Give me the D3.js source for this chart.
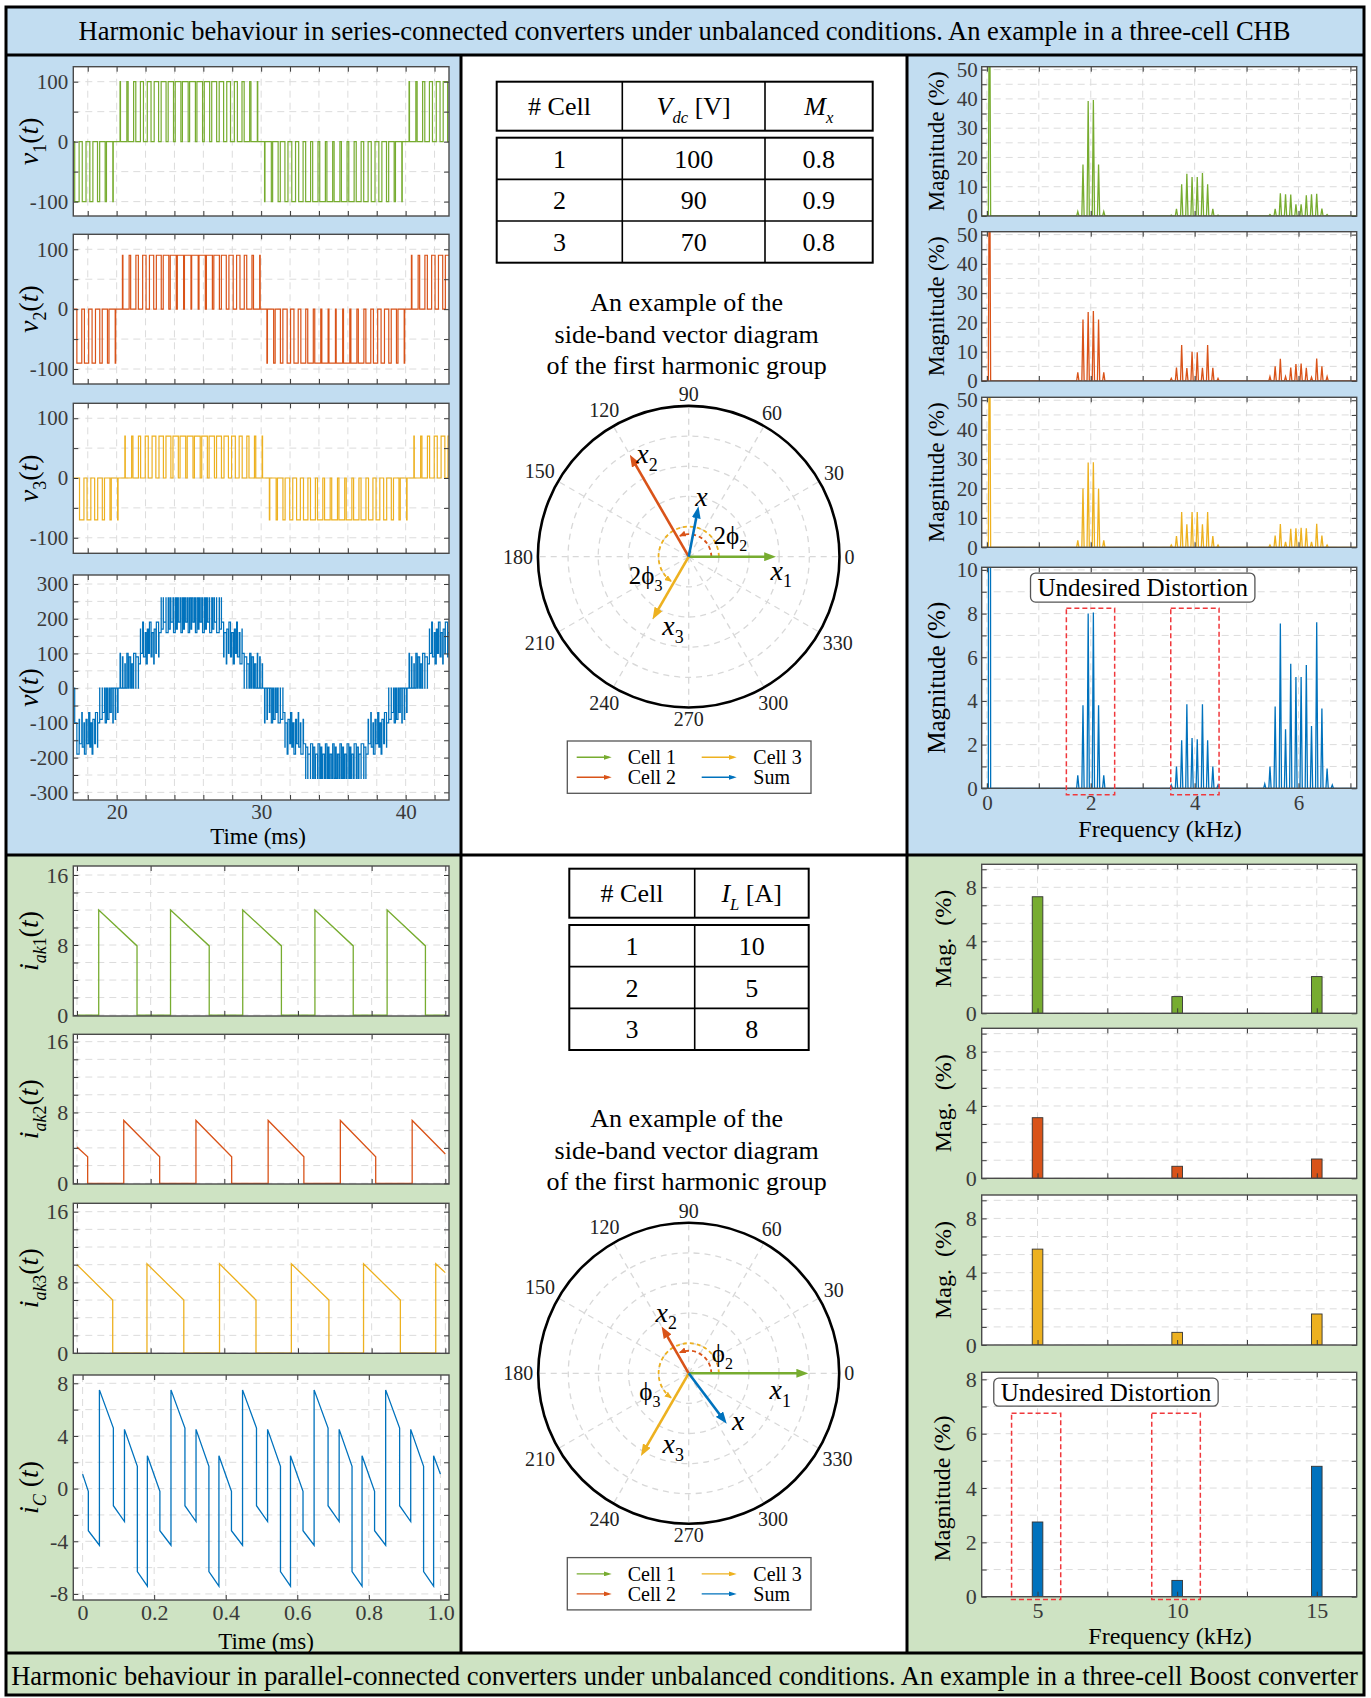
<!DOCTYPE html>
<html><head><meta charset="utf-8">
<script src="https://cdn.jsdelivr.net/npm/d3@7/dist/d3.min.js"></script>
<style>html,body{margin:0;padding:0;background:#fff;}svg{display:block;}</style>
</head><body>
<script>
// ======================= DATA =======================
const titleTop = "Harmonic behaviour in series-connected converters under unbalanced conditions. An example in a three-cell CHB";
const titleBottom = "Harmonic behaviour in parallel-connected converters under unbalanced conditions. An example in a three-cell Boost converter";
const captionLines = ["An example of the", "side-band vector diagram", "of the first harmonic group"];
const legendNames = ["Cell 1", "Cell 2", "Cell 3", "Sum"];

// CHB cells: switching-period pulse widths (signed duty per 0.5 ms period, 17..43 ms)
const pwmStartMs = 17, pwmEndMs = 43, pwmPeriodMs = 0.5;
const cellVdc = [100, 90, 70];
const carrierShiftMs = [0, 0.167, 0.333];
const duty1 = [-0.61,-0.52,-0.42,-0.30,-0.18,-0.06, 0.06,0.18,0.30,0.42,0.52,0.61,0.68,0.74,0.78,0.80,0.80,0.78,0.74,0.68,0.61,0.52,0.42,0.30,0.18,0.06, -0.06,-0.18,-0.30,-0.42,-0.52,-0.61,-0.68,-0.74,-0.78,-0.80,-0.80,-0.78,-0.74,-0.68,-0.61,-0.52,-0.42,-0.30,-0.18,-0.06, 0.06,0.18,0.30,0.42,0.52,0.61];
const duty2 = [-0.68,-0.59,-0.47,-0.34,-0.21,-0.07, 0.07,0.21,0.34,0.47,0.59,0.68,0.77,0.83,0.87,0.90,0.90,0.87,0.83,0.77,0.68,0.59,0.47,0.34,0.21,0.07, -0.07,-0.21,-0.34,-0.47,-0.59,-0.68,-0.77,-0.83,-0.87,-0.90,-0.90,-0.87,-0.83,-0.77,-0.68,-0.59,-0.47,-0.34,-0.21,-0.07, 0.07,0.21,0.34,0.47,0.59,0.68];
const duty3 = [-0.61,-0.52,-0.42,-0.30,-0.18,-0.06, 0.06,0.18,0.30,0.42,0.52,0.61,0.68,0.74,0.78,0.80,0.80,0.78,0.74,0.68,0.61,0.52,0.42,0.30,0.18,0.06, -0.06,-0.18,-0.30,-0.42,-0.52,-0.61,-0.68,-0.74,-0.78,-0.80,-0.80,-0.78,-0.74,-0.68,-0.61,-0.52,-0.42,-0.30,-0.18,-0.06, 0.06,0.18,0.30,0.42,0.52,0.61];

// CHB spectra (kHz, %)
const specFreq  = [0.05, 1.75,1.85,1.95,2.05,2.15,2.25, 3.55,3.65,3.75,3.85,3.95,4.05,4.15,4.25,4.35,4.45, 5.35,5.45,5.55,5.65,5.75,5.85,5.95,6.05,6.15,6.25,6.35,6.45,6.55,6.65];
const specCell1 = [100, 1.5,17.6,39.3,39.6,17.6,1.5, 0.3,2.4,10.8,14.4,13.3,13.3,14.7,10.8,2.4,0.3, 0,0.5,2.4,7.8,7.4,7.3,4.0,4.0,7.1,7.4,7.6,2.5,0.5,0];
const specCell2 = [100, 3.0,21.0,23.6,23.9,21.0,3.0, 0.9,4.6,12.3,4.4,10.0,9.8,4.5,12.3,4.5,0.9, 0,1.5,5.0,7.6,1.5,4.6,5.8,6.0,4.5,1.3,7.7,5.0,1.5,0];
const specCell3 = [100, 2.4,20.0,28.8,28.9,20.0,2.4, 0.8,3.8,12.0,7.8,12.0,12.0,7.8,12.0,3.8,0.8, 0,0.8,4.0,7.9,1.8,6.3,6.5,6.6,6.5,1.8,8.0,4.0,0.8,0];
const specSum   = [100, 0.6,3.8,8.0,8.05,3.8,0.6, 0.15,1.0,2.2,3.85,2.3,2.25,3.85,2.2,1.0,0.15, 0.2,1.0,3.75,7.55,2.7,5.7,5.1,5.1,5.65,2.85,7.6,3.65,0.9,0.15];

// Boost cells: inductor/diode currents (ms, A)
const iak1T = [0,0.059,0.059,0.163,0.163,0.254,0.254,0.359,0.359,0.450,0.450,0.555,0.555,0.646,0.646,0.750,0.750,0.842,0.842,0.946,0.946,1.0];
const iak1V = [0,0,12.0,7.9,0,0,12.0,7.9,0,0,12.0,7.9,0,0,12.0,7.9,0,0,12.0,7.9,0,0];
const iak2T = [0,0.029,0.029,0.127,0.127,0.2245,0.2245,0.323,0.323,0.420,0.420,0.519,0.519,0.616,0.616,0.715,0.715,0.811,0.811,0.910,0.910,1.0];
const iak2V = [4.1,3.0,0,0,7.1,3.0,0,0,7.1,3.0,0,0,7.1,3.0,0,0,7.1,3.0,0,0,7.1,3.3];
const iak3T = [0,0.097,0.097,0.190,0.190,0.290,0.290,0.387,0.387,0.486,0.486,0.582,0.582,0.684,0.684,0.778,0.778,0.878,0.878,0.974,0.974,1.0];
const iak3V = [10.0,6.0,0,0,10.1,6.0,0,0,10.1,6.0,0,0,10.1,6.0,0,0,10.1,6.0,0,0,10.1,9.1];
const icT = [0, 0.016,0.016,0.047,0.047,0.086,0.086,0.117,0.117,0.153,0.153,0.181,0.181,
  0.216,0.216,0.247,0.247,0.286,0.286,0.317,0.317,0.353,0.353,0.381,0.381,
  0.416,0.416,0.447,0.447,0.486,0.486,0.517,0.517,0.553,0.553,0.581,0.581,
  0.616,0.616,0.647,0.647,0.686,0.686,0.717,0.717,0.753,0.753,0.781,0.781,
  0.816,0.816,0.847,0.847,0.886,0.886,0.917,0.917,0.953,0.953,0.981,0.981, 1.0];
const icV = [1.1, -0.2,-3.2,-4.3,7.5,4.6,-1.3,-2.5,4.5,1.7,-6.3,-7.4,2.5,
  -0.2,-3.2,-4.3,7.5,4.6,-1.3,-2.5,4.5,1.7,-6.3,-7.4,2.5,
  -0.2,-3.2,-4.3,7.5,4.6,-1.3,-2.5,4.5,1.7,-6.3,-7.4,2.5,
  -0.2,-3.2,-4.3,7.5,4.6,-1.3,-2.5,4.5,1.7,-6.3,-7.4,2.5,
  -0.2,-3.2,-4.3,7.5,4.6,-1.3,-2.5,4.5,1.7,-6.3,-7.4,2.5, 1.1];

// Boost spectra (kHz, %)
const barFreq  = [5, 10, 15];
const barCell1 = [7.40, 1.06, 2.33];
const barCell2 = [3.83, 0.76, 1.22];
const barCell3 = [6.06, 0.80, 1.96];
const barSum   = [2.75, 0.60, 4.80];

// Tables
const tableCell = ["1", "2", "3"];
const tableVdc = [100, 90, 70];
const tableMx = [0.8, 0.9, 0.8];
const tableIL = [10, 5, 8];

// Vector diagrams (angle deg, magnitude relative to outer ring)
const polarAngleTicks = [0,30,60,90,120,150,180,210,240,270,300,330];
const polarRings = [0.2, 0.4, 0.6, 0.8];
const vecNames = ["1", "2", "3", ""];
const vecAngleTop = [0, 120, 240, 79];
const vecMagTop   = [0.58, 0.78, 0.48, 0.34];
const vecAngleBot = [0, 120, 240, 307];
const vecMagBot   = [0.795, 0.36, 0.635, 0.42];
const vecLabelAngTop = [352, 112, 257, 78];
const vecLabelRadTop = [0.62, 0.74, 0.465, 0.41];
const vecLabelAngBot = [350, 110, 257.6, 316.7];
const vecLabelRadBot = [0.617, 0.435, 0.476, 0.452];
const phaseArcEnd = [113, 234];
const phaseArcRad = [0.15, 0.2];
const phaseLabelTop = ["2ϕ", "2ϕ"], phaseLabelBot = ["ϕ", "ϕ"];
const phaseLabelAngTop = [27, 203], phaseLabelRadTop = [0.31, 0.31];
const phaseLabelAngBot = [30.5, 205.4], phaseLabelRadBot = [0.26, 0.285];

// Ticks
const timeTicksTop = [18,20,22,24,26,28,30,32,34,36,38,40,42];
const timeTickLabelsTop = ["","20","","","","","30","","","","","40",""];
const vCellTicks = [-100,-50,0,50,100];
const vCellTickLabels = ["-100","","0","","100"];
const vSumTicks = [-300,-250,-200,-150,-100,-50,0,50,100,150,200,250,300];
const vSumTickLabels = ["-300","","-200","","-100","","0","","100","","200","","300"];
const freqTicks = [0,1,2,3,4,5,6,7];
const freqTickLabels = ["0","","2","","4","","6",""];
const specTicks = [0,5,10,15,20,25,30,35,40,45,50];
const specTickLabels = ["0","","10","","20","","30","","40","","50"];
const sumSpecTicks = [0,1,2,3,4,5,6,7,8,9,10];
const sumSpecTickLabels = ["0","","2","","4","","6","","8","","10"];
const timeTicksBot = [0,0.2,0.4,0.6,0.8,1.0];
const timeTickLabelsBot = ["0","0.2","0.4","0.6","0.8","1.0"];
const iakTicks = [0,2,4,6,8,10,12,14,16];
const iakTickLabels = ["0","","","","8","","","","16"];
const icTicks = [-8,-6,-4,-2,0,2,4,6,8];
const icTickLabels = ["-8","","-4","","0","","4","","8"];
const barXTicks = [5,7.5,10,12.5,15];
const barXTickLabels = ["5","","10","","15"];
const barYTicks = [0,1.143,2.286,3.429,4.571,5.714,6.857,8,9.143];
const barYTickLabels = ["0","","","","4","","","8",""];
const barSumYTicks = [0,1,2,3,4,5,6,7,8];
const barSumYTickLabels = ["0","","2","","4","","6","","8"];

// Annotations
const distBoxesTop = [[1.53,2.46],[3.54,4.47]], distBoxYTop = [-0.3, 8.25];
const distBoxesBot = [[4.07,5.83],[9.09,10.83]], distBoxYBot = [-0.1, 6.75];
const distLabelText = "Undesired Distortion";
const distLabelTop = [3.0, 9.19], distLabelBot = [7.45, 7.53];

// ======================= RENDER =======================
const SERIF = '"Liberation Serif","DejaVu Serif","Times New Roman",serif';
const COLORS = ["#77AC30", "#D95319", "#EDB120", "#0072BD"];
const BLUE_BG = "#C2DDF1", GREEN_BG = "#CEE3C3";
const TICK_FS = 21, YLAB_FS = 28;
const W = 1371, H = 1698;
const svg = d3.select("body").append("svg").attr("width", W).attr("height", H).attr("font-family", SERIF);
const defs = svg.append("defs");

[[6,7,1358,48,BLUE_BG],[6,55,455,800,BLUE_BG],[461,55,446,800,"#fff"],[907,55,457,800,BLUE_BG],
 [6,855,455,798,GREEN_BG],[461,855,446,798,"#fff"],[907,855,457,798,GREEN_BG],[6,1653,1358,42,GREEN_BG]]
 .forEach(r => svg.append("rect").attr("x", r[0]).attr("y", r[1]).attr("width", r[2]).attr("height", r[3]).attr("fill", r[4]));

function rich(t, parts, fs) {
  let shift = 0;
  parts.forEach(p => {
    const s = t.append("tspan").text(p.t);
    if (p.it) s.attr("font-style", "italic");
    const want = p.sub ? fs * 0.28 : 0;
    if (p.sub) s.attr("font-size", fs * 0.64);
    if (want !== shift) { s.attr("dy", want - shift); shift = want; }
  });
  return t;
}
function label(x, y, parts, fs, opt = {}) {
  const t = svg.append("text").attr("text-anchor", opt.anchor || "middle").attr("font-size", fs)
    .attr("fill", opt.fill || "#000").attr("dy", "0.35em");
  if (opt.rot) t.attr("transform", `translate(${x},${y}) rotate(-90)`);
  else t.attr("x", x).attr("y", y);
  rich(t, typeof parts === "string" ? [{ t: parts }] : parts, fs);
  return t;
}
function fitTitle(text, cx, cy, width) {
  const t = svg.append("text").attr("x", cx).attr("y", cy).attr("dy", "0.35em").attr("text-anchor", "middle")
    .attr("font-size", 24).text(text);
  const len = t.node().getComputedTextLength();
  t.attr("font-size", 24 * width / len);
}
fitTitle(titleTop, 684.5, 30.5, 1213);
fitTitle(titleBottom, 684.5, 1675.5, 1347);

function marker(id, color, len, wid, ref) {
  defs.append("marker").attr("id", id).attr("viewBox", `0 0 ${len} ${wid}`).attr("refX", ref).attr("refY", wid / 2)
    .attr("markerWidth", len).attr("markerHeight", wid).attr("markerUnits", "userSpaceOnUse").attr("orient", "auto")
    .append("path").attr("d", `M0,0L${len},${wid / 2}L0,${wid}Z`).attr("fill", color);
}
COLORS.forEach((c, i) => { marker("big" + i, c, 12, 9, 6); marker("sm" + i, c, 7, 6, 6); marker("lg" + i, c, 8, 5, 5); });

let clipN = 0;
function makeAxes(o) {
  const x = d3.scaleLinear().domain(o.xd).range([o.x0, o.x1]);
  const y = d3.scaleLinear().domain(o.yd).range([o.y1, o.y0]);
  const g = svg.append("g");
  g.append("rect").attr("x", o.x0).attr("y", o.y0).attr("width", o.x1 - o.x0).attr("height", o.y1 - o.y0).attr("fill", "#fff");
  const grid = g.append("g").attr("stroke", "#dcdcdc").attr("stroke-width", 1).attr("stroke-dasharray", "7,5");
  grid.selectAll(".gx").data(o.xTicks).join("line").attr("x1", d => x(d)).attr("x2", d => x(d)).attr("y1", o.y0).attr("y2", o.y1);
  grid.selectAll(".gy").data(o.yTicks).join("line").attr("y1", d => y(d)).attr("y2", d => y(d)).attr("x1", o.x0).attr("x2", o.x1);
  const id = "clip" + (clipN++);
  defs.append("clipPath").attr("id", id).append("rect").attr("x", o.x0).attr("y", o.y0).attr("width", o.x1 - o.x0).attr("height", o.y1 - o.y0);
  const plot = g.append("g").attr("clip-path", `url(#${id})`);
  return { x, y, g, plot, o };
}
function finishAxes(A) {
  const { x, y, g, o } = A;
  const style = s => {
    s.attr("font-family", SERIF).attr("font-size", o.fs || TICK_FS);
    s.select(".domain").remove();
    s.selectAll(".tick line").attr("stroke", "#3a3a3a").attr("stroke-width", 1);
    s.selectAll("text").attr("font-family", SERIF).attr("font-size", o.fs || TICK_FS).attr("fill", "#3a3a3a");
  };
  g.append("g").attr("transform", `translate(${o.x0},0)`)
    .call(d3.axisLeft(y).tickValues(o.yTicks).tickSizeInner(-5).tickSizeOuter(0).tickPadding(o.yPad || 5).tickFormat((d, i) => o.yLabels[i])).call(style);
  g.append("g").attr("transform", `translate(${o.x1},0)`)
    .call(d3.axisRight(y).tickValues(o.yTicks).tickSizeInner(-5).tickSizeOuter(0).tickFormat(() => "")).call(style);
  g.append("g").attr("transform", `translate(0,${o.y0})`)
    .call(d3.axisTop(x).tickValues(o.xTicks).tickSizeInner(-5).tickSizeOuter(0).tickFormat(() => "")).call(style);
  g.append("g").attr("transform", `translate(0,${o.y1})`)
    .call(d3.axisBottom(x).tickValues(o.xTicks).tickSizeInner(-5).tickSizeOuter(0).tickPadding(o.xPad || 6)
      .tickFormat((d, i) => (o.xLabels ? o.xLabels[i] : ""))).call(style);
  g.append("rect").attr("x", o.x0).attr("y", o.y0).attr("width", o.x1 - o.x0).attr("height", o.y1 - o.y0)
    .attr("fill", "none").attr("stroke", "#4a4a4a").attr("stroke-width", 1.4);
}

// ---------- Top-left: CHB cell voltages ----------
function cellPulses(duty, V, shift) {
  return duty.map((d, k) => {
    const c = pwmStartMs + (k + 0.5) * pwmPeriodMs + shift, w = Math.abs(d) * pwmPeriodMs;
    return { a: c - w / 2, b: c + w / 2, v: Math.sign(d) * V };
  });
}
const cellPulseSets = [duty1, duty2, duty3].map((d, i) => cellPulses(d, cellVdc[i], carrierShiftMs[i]));
function pulsePoints(ps) {
  const pts = [[pwmStartMs, 0]];
  ps.forEach(p => { pts.push([p.a, p.v], [p.b, 0]); });
  pts.push([pwmEndMs, 0]);
  return pts;
}
const sumBreaks = Array.from(new Set([pwmStartMs, pwmEndMs].concat(...cellPulseSets.map(ps => ps.flatMap(p => [p.a, p.b]))))).sort((a, b) => a - b);
const sumPoints = sumBreaks.map((t, i) => {
  const m = i < sumBreaks.length - 1 ? (t + sumBreaks[i + 1]) / 2 : t;
  const v = d3.sum(cellPulseSets, ps => { const p = ps.find(q => q.a <= m && m < q.b); return p ? p.v : 0; });
  return [t, v];
});

const tlPanels = [
  { y0: 66.7, y1: 216, yd: [-124, 125], yTicks: vCellTicks, yLabels: vCellTickLabels, pts: pulsePoints(cellPulseSets[0]), c: 0, lab: [{ t: "v", it: 1 }, { t: "1", sub: 1 }, { t: "(" }, { t: "t", it: 1 }, { t: ")" }] },
  { y0: 234.3, y1: 384, yd: [-125, 125], yTicks: vCellTicks, yLabels: vCellTickLabels, pts: pulsePoints(cellPulseSets[1]), c: 1, lab: [{ t: "v", it: 1 }, { t: "2", sub: 1 }, { t: "(" }, { t: "t", it: 1 }, { t: ")" }] },
  { y0: 403.3, y1: 553.3, yd: [-126, 125], yTicks: vCellTicks, yLabels: vCellTickLabels, pts: pulsePoints(cellPulseSets[2]), c: 2, lab: [{ t: "v", it: 1 }, { t: "3", sub: 1 }, { t: "(" }, { t: "t", it: 1 }, { t: ")" }] },
  { y0: 575, y1: 800, yd: [-322, 326], yTicks: vSumTicks, yLabels: vSumTickLabels, pts: sumPoints, c: 3, lab: [{ t: "v", it: 1 }, { t: "(" }, { t: "t", it: 1 }, { t: ")" }], last: true }
];
tlPanels.forEach(p => {
  const A = makeAxes({ x0: 73.3, x1: 449, y0: p.y0, y1: p.y1, xd: [17, 43], yd: p.yd, xTicks: timeTicksTop, yTicks: p.yTicks, yLabels: p.yLabels, xLabels: p.last ? timeTickLabelsTop : null, xPad: 4 });
  A.plot.append("path").datum(p.pts).attr("fill", "none").attr("stroke", COLORS[p.c]).attr("stroke-width", 1.2)
    .attr("d", d3.line().x(d => A.x(d[0])).y(d => A.y(d[1])).curve(d3.curveStepAfter));
  finishAxes(A);
  label(28, (p.y0 + p.y1) / 2, p.lab, YLAB_FS, { rot: true });
});
label(258, 836, "Time (ms)", 23);

// ---------- Top-right: CHB spectra ----------
function spectrumPoints(freqs, mags, xd) {
  const pts = [[xd[0], 0]];
  freqs.forEach((f, i) => { pts.push([f - 0.022, 0], [f, mags[i]], [f + 0.022, 0]); });
  pts.push([xd[1], 0]);
  return pts;
}
const trPanels = [
  { y0: 66.7, y1: 216, yd: [0, 51], mags: specCell1, c: 0, yTicks: specTicks, yLabels: specTickLabels },
  { y0: 231.7, y1: 381, yd: [0, 51], mags: specCell2, c: 1, yTicks: specTicks, yLabels: specTickLabels },
  { y0: 397.3, y1: 547.3, yd: [0, 51], mags: specCell3, c: 2, yTicks: specTicks, yLabels: specTickLabels },
  { y0: 567.3, y1: 788.3, yd: [0, 10.12], mags: specSum, c: 3, yTicks: sumSpecTicks, yLabels: sumSpecTickLabels, last: true }
];
trPanels.forEach(p => {
  const xd = [-0.1, 7.12];
  const A = makeAxes({ x0: 981.7, x1: 1356.7, y0: p.y0, y1: p.y1, xd, yd: p.yd, xTicks: freqTicks, yTicks: p.yTicks, yLabels: p.yLabels, xLabels: p.last ? freqTickLabels : null, yPad: 4, xPad: 7 });
  A.plot.append("path").datum(spectrumPoints(specFreq, p.mags, xd)).attr("fill", "none").attr("stroke", COLORS[p.c]).attr("stroke-width", 1.3)
    .attr("d", d3.line().x(d => A.x(d[0])).y(d => A.y(d[1])));
  finishAxes(A);
  if (p.last) {
    distBoxesTop.forEach(b => A.g.append("rect").attr("x", A.x(b[0])).attr("y", A.y(distBoxYTop[1]))
      .attr("width", A.x(b[1]) - A.x(b[0])).attr("height", A.y(distBoxYTop[0]) - A.y(distBoxYTop[1]))
      .attr("fill", "none").attr("stroke", "#F0383C").attr("stroke-width", 1.5).attr("stroke-dasharray", "5,3"));
    const lx = A.x(distLabelTop[0]), ly = A.y(distLabelTop[1]);
    const br = A.g.append("rect").attr("fill", "#fff").attr("stroke", "#555").attr("stroke-width", 1.3).attr("rx", 5);
    const t = A.g.append("text").attr("x", lx).attr("y", ly).attr("dy", "0.35em").attr("text-anchor", "middle").attr("font-size", 25).text(distLabelText);
    const w = t.node().getComputedTextLength();
    br.attr("x", lx - w / 2 - 7).attr("y", ly - 14.5).attr("width", w + 14).attr("height", 29);
  }
  label(936, (p.y0 + p.y1) / 2, "Magnitude (%)", p.last ? 25 : 23, { rot: true });
});
label(1160, 829, "Frequency (kHz)", 24);

// ---------- Bottom-left: Boost currents ----------
const blPanels = [
  { y0: 866, y1: 1016, yd: [-0.11, 17.03], xd: [-0.01, 1.01], T: iak1T, V: iak1V, c: 0, yTicks: iakTicks, yLabels: iakTickLabels, lab: [{ t: "i", it: 1 }, { t: "ak", it: 1, sub: 1 }, { t: "1", sub: 1 }, { t: "(" }, { t: "t", it: 1 }, { t: ")" }] },
  { y0: 1034.3, y1: 1184, yd: [-0.08, 16.83], xd: [-0.01, 1.01], T: iak2T, V: iak2V, c: 1, yTicks: iakTicks, yLabels: iakTickLabels, lab: [{ t: "i", it: 1 }, { t: "ak", it: 1, sub: 1 }, { t: "2", sub: 1 }, { t: "(" }, { t: "t", it: 1 }, { t: ")" }] },
  { y0: 1203.3, y1: 1353.3, yd: [-0.03, 16.95], xd: [-0.01, 1.01], T: iak3T, V: iak3V, c: 2, yTicks: iakTicks, yLabels: iakTickLabels, lab: [{ t: "i", it: 1 }, { t: "ak", it: 1, sub: 1 }, { t: "3", sub: 1 }, { t: "(" }, { t: "t", it: 1 }, { t: ")" }] },
  { y0: 1375, y1: 1600, yd: [-8.46, 8.63], xd: [-0.026, 1.024], T: icT, V: icV, c: 3, yTicks: icTicks, yLabels: icTickLabels, lab: [{ t: "i", it: 1 }, { t: "C", it: 1, sub: 1 }, { t: " (" }, { t: "t", it: 1 }, { t: ")" }], last: true }
];
blPanels.forEach(p => {
  const A = makeAxes({ x0: 73.3, x1: 449, y0: p.y0, y1: p.y1, xd: p.xd, yd: p.yd, xTicks: timeTicksBot, yTicks: p.yTicks, yLabels: p.yLabels, xLabels: p.last ? timeTickLabelsBot : null, fs: 22, xPad: 4 });
  A.plot.append("path").datum(p.T.map((t, i) => [t, p.V[i]])).attr("fill", "none").attr("stroke", COLORS[p.c]).attr("stroke-width", 1.3)
    .attr("d", d3.line().x(d => A.x(d[0])).y(d => A.y(d[1])));
  finishAxes(A);
  label(28, (p.y0 + p.y1) / 2, p.lab, YLAB_FS, { rot: true });
});
label(266, 1641, "Time (ms)", 23);

// ---------- Bottom-right: Boost spectra ----------
const brPanels = [
  { y0: 864.3, y1: 1013.3, yd: [0, 9.46], vals: barCell1, c: 0, yTicks: barYTicks, yLabels: barYTickLabels },
  { y0: 1028.3, y1: 1178.3, yd: [0, 9.48], vals: barCell2, c: 1, yTicks: barYTicks, yLabels: barYTickLabels },
  { y0: 1195, y1: 1345, yd: [0, 9.48], vals: barCell3, c: 2, yTicks: barYTicks, yLabels: barYTickLabels },
  { y0: 1372.3, y1: 1596.7, yd: [0, 8.26], vals: barSum, c: 3, yTicks: barSumYTicks, yLabels: barSumYTickLabels, last: true }
];
brPanels.forEach(p => {
  const A = makeAxes({ x0: 981.7, x1: 1356.7, y0: p.y0, y1: p.y1, xd: [3, 16.43], yd: p.yd, xTicks: barXTicks, yTicks: p.yTicks, yLabels: p.yLabels, xLabels: p.last ? barXTickLabels : null, xPad: 6, fs: 22 });
  A.plot.selectAll(".bar").data(barFreq).join("rect")
    .attr("x", d => A.x(d) - 5.3).attr("width", 10.6)
    .attr("y", (d, i) => A.y(p.vals[i])).attr("height", (d, i) => A.y(0) - A.y(p.vals[i]))
    .attr("fill", COLORS[p.c]).attr("stroke", "#333").attr("stroke-width", 0.9);
  finishAxes(A);
  if (p.last) {
    distBoxesBot.forEach(b => A.g.append("rect").attr("x", A.x(b[0])).attr("y", A.y(distBoxYBot[1]))
      .attr("width", A.x(b[1]) - A.x(b[0])).attr("height", A.y(distBoxYBot[0]) - A.y(distBoxYBot[1]))
      .attr("fill", "none").attr("stroke", "#F0383C").attr("stroke-width", 1.5).attr("stroke-dasharray", "5,3"));
    const lx = A.x(distLabelBot[0]), ly = A.y(distLabelBot[1]);
    const br = A.g.append("rect").attr("fill", "#fff").attr("stroke", "#555").attr("stroke-width", 1.3).attr("rx", 5);
    const t = A.g.append("text").attr("x", lx).attr("y", ly).attr("dy", "0.35em").attr("text-anchor", "middle").attr("font-size", 25).text(distLabelText);
    const w = t.node().getComputedTextLength();
    br.attr("x", lx - w / 2 - 7).attr("y", ly - 14).attr("width", w + 14).attr("height", 28);
    label(942, (p.y0 + p.y1) / 2 + 4, "Magnitude (%)", 24, { rot: true });
  } else {
    label(943, (p.y0 + p.y1) / 2, "Mag.\u00a0\u00a0(%)", 24, { rot: true });
  }
});
label(1170, 1636, "Frequency (kHz)", 24);

// ---------- Middle: tables ----------
function drawTable(cols, hy, by, headers, rows) {
  const g = svg.append("g").attr("stroke", "#000").attr("fill", "none");
  const x0 = cols[0], x1 = cols[cols.length - 1];
  g.append("rect").attr("x", x0).attr("y", hy[0]).attr("width", x1 - x0).attr("height", hy[1] - hy[0]).attr("stroke-width", 2);
  g.append("rect").attr("x", x0).attr("y", by[0]).attr("width", x1 - x0).attr("height", by[1] - by[0]).attr("stroke-width", 2);
  cols.slice(1, -1).forEach(c => {
    g.append("line").attr("x1", c).attr("x2", c).attr("y1", hy[0]).attr("y2", hy[1]).attr("stroke-width", 1.6);
    g.append("line").attr("x1", c).attr("x2", c).attr("y1", by[0]).attr("y2", by[1]).attr("stroke-width", 1.6);
  });
  const rowScale = d3.scaleBand().domain(d3.range(rows.length)).range(by);
  d3.range(1, rows.length).forEach(i => g.append("line").attr("x1", x0).attr("x2", x1).attr("y1", rowScale(i)).attr("y2", rowScale(i)).attr("stroke-width", 1.6));
  headers.forEach((h, j) => label((cols[j] + cols[j + 1]) / 2, (hy[0] + hy[1]) / 2, h, 26));
  rows.forEach((r, i) => r.forEach((v, j) => label((cols[j] + cols[j + 1]) / 2, rowScale(i) + rowScale.bandwidth() / 2, v, 26)));
}
drawTable([496.7, 622.3, 765, 872.7], [81.7, 130.7], [137.7, 262.7],
  [[{ t: "# Cell" }], [{ t: "V", it: 1 }, { t: "dc", it: 1, sub: 1 }, { t: " [V]" }], [{ t: "M", it: 1 }, { t: "x", it: 1, sub: 1 }]],
  tableCell.map((c, i) => [c, String(tableVdc[i]), String(tableMx[i])]));
drawTable([569.3, 694.7, 808.7], [868.7, 917.7], [925, 1050],
  [[{ t: "# Cell" }], [{ t: "I", it: 1 }, { t: "L", it: 1, sub: 1 }, { t: " [A]" }]],
  tableCell.map((c, i) => [c, String(tableIL[i])]));

captionLines.forEach((l, i) => label(686.7, 301.7 + i * 31.7, l, 26));
captionLines.forEach((l, i) => label(686.7, 1118.3 + i * 31.2, l, 26));

// ---------- Middle: vector diagrams ----------
function polar(cx, cy, R, angs, mags, labAng, labRad, phLab, phAng, phRad) {
  const r = d3.scaleLinear().domain([0, 1]).range([0, R]);
  const rad = a => a * Math.PI / 180;
  const px = (a, v) => cx + r(v) * Math.cos(rad(a)), py = (a, v) => cy - r(v) * Math.sin(rad(a));
  const g = svg.append("g");
  const gg = g.append("g").attr("fill", "none").attr("stroke", "#d8d8d8").attr("stroke-width", 1.3).attr("stroke-dasharray", "6,5");
  gg.selectAll(".ring").data(polarRings).join("circle").attr("cx", cx).attr("cy", cy).attr("r", d => r(d));
  gg.selectAll(".spoke").data(polarAngleTicks).join("line").attr("x1", cx).attr("y1", cy).attr("x2", d => px(d, 1)).attr("y2", d => py(d, 1));
  g.append("circle").attr("cx", cx).attr("cy", cy).attr("r", r(1)).attr("fill", "none").attr("stroke", "#000").attr("stroke-width", 2.6);
  polarAngleTicks.forEach(a => {
    const t = g.append("text").text(a).attr("font-size", 20).attr("text-anchor", "middle").attr("dy", "0.35em").attr("fill", "#222");
    const w = t.node().getComputedTextLength(), h = 13;
    const off = R + 5 + Math.abs(Math.cos(rad(a))) * w / 2 + Math.abs(Math.sin(rad(a))) * h / 2;
    t.attr("x", cx + off * Math.cos(rad(a))).attr("y", cy - off * Math.sin(rad(a)));
  });
  phaseArcEnd.forEach((e, i) => {
    const p = d3.path();
    p.arc(cx, cy, r(phaseArcRad[i]), 0, -rad(e), true);
    g.append("path").attr("d", p.toString()).attr("fill", "none").attr("stroke", COLORS[i + 1]).attr("stroke-width", 1.8)
      .attr("stroke-dasharray", "4,3").attr("marker-end", `url(#sm${i + 1})`);
  });
  angs.forEach((a, i) => {
    const L = r(mags[i]) - 6;
    g.append("line").attr("x1", cx).attr("y1", cy)
      .attr("x2", cx + L * Math.cos(rad(a))).attr("y2", cy - L * Math.sin(rad(a)))
      .attr("stroke", COLORS[i]).attr("stroke-width", 2.6).attr("marker-end", `url(#big${i})`);
  });
  angs.forEach((a, i) => {
    const parts = vecNames[i] ? [{ t: "x", it: 1 }, { t: vecNames[i], sub: 1 }] : [{ t: "x", it: 1 }];
    label(px(labAng[i], labRad[i]), py(labAng[i], labRad[i]), parts, 28);
  });
  phLab.forEach((s, i) => label(px(phAng[i], phRad[i]), py(phAng[i], phRad[i]), [{ t: s }, { t: String(i + 2), sub: 1 }], 25));
  const lg = g.append("g");
  lg.append("rect").attr("x", cx - 121.4).attr("y", cy + 184.3).attr("width", 243.7).attr("height", 52.3)
    .attr("fill", "#fff").attr("stroke", "#555").attr("stroke-width", 1.3);
  legendNames.forEach((n, i) => {
    const col = Math.floor(i / 2), row = i % 2;
    const ax = col === 0 ? cx - 112 : cx + 13, tx = col === 0 ? cx - 61 : cx + 64.6, ly = cy + 200.6 + row * 20;
    lg.append("line").attr("x1", ax).attr("x2", ax + 32).attr("y1", ly).attr("y2", ly).attr("stroke", COLORS[i]).attr("stroke-width", 1.4).attr("marker-end", `url(#lg${i})`);
    lg.append("text").attr("x", tx).attr("y", ly).attr("dy", "0.35em").attr("font-size", 20).text(n);
  });
}
polar(688.7, 556.7, 150.8, vecAngleTop, vecMagTop, vecLabelAngTop, vecLabelRadTop, phaseLabelTop, phaseLabelAngTop, phaseLabelRadTop);
polar(688.7, 1373.3, 150.5, vecAngleBot, vecMagBot, vecLabelAngBot, vecLabelRadBot, phaseLabelBot, phaseLabelAngBot, phaseLabelRadBot);

// ---------- frame lines ----------
const fr = svg.append("g").attr("stroke", "#000").attr("fill", "none").attr("stroke-width", 3);
fr.append("rect").attr("x", 6).attr("y", 7).attr("width", 1358).attr("height", 1688);
[55, 855, 1653].forEach(y => fr.append("line").attr("x1", 6).attr("x2", 1364).attr("y1", y).attr("y2", y));
[461, 907].forEach(x => fr.append("line").attr("x1", x).attr("x2", x).attr("y1", 55).attr("y2", 1653));
</script>
</body></html>
